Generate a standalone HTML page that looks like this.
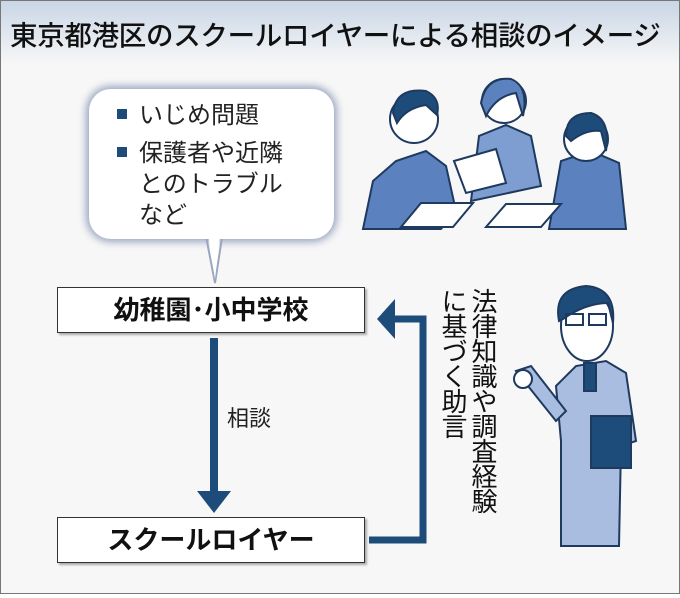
<!DOCTYPE html>
<html><head><meta charset="utf-8"><style>
body{margin:0;width:680px;height:594px;overflow:hidden;font-family:"Liberation Sans","Noto Sans CJK JP",sans-serif;}
#wrap{position:relative;width:678px;height:592px;border:1px solid #777;background:#f7f7f7;}
#title{position:absolute;left:0;top:0;width:678px;height:64px;background:linear-gradient(#c9d6e6,#f7f7f7);}
#title span{position:absolute;left:9px;top:12px;font-size:27.5px;font-weight:500;color:#111;letter-spacing:-0.3px;white-space:nowrap}
.box{position:absolute;left:56px;width:306px;height:44px;background:#fff;border:1px solid #333;box-shadow:2px 2px 2px #aaa;text-align:center;font-size:26px;font-weight:bold;line-height:44px;color:#111}
.bubble{position:absolute;left:88px;top:88px;width:245px;height:150px;background:#fff;border-radius:22px;box-shadow:0 0 8px 3px #9aa6c0;}
.bt{position:absolute;font-size:24px;color:#222;line-height:31px;white-space:nowrap}
.sq{display:inline-block;width:10px;height:10px;background:#1e4c7a;margin-right:12px;vertical-align:4px}
.vt{position:absolute;writing-mode:vertical-rl;font-size:26px;color:#111;line-height:30px;letter-spacing:-1px}
</style></head><body><div id="wrap">
<div id="title"><span>東京都港区のスクールロイヤーによる相談のイメージ</span></div>
<svg style="position:absolute;left:0;top:0" width="678" height="592">
<polygon points="204,230 222,230 214,282" fill="#fff" stroke="#9aa6c0" stroke-width="2"/>
</svg>
<div class="bubble"></div>
<svg style="position:absolute;left:0;top:0" width="678" height="592">
<polygon points="206,226 220,226 214,278" fill="#fff"/>
<rect x="209" y="337" width="8" height="158" fill="#1e4c7a"/>
<polygon points="196,490 230,490 213,512" fill="#1e4c7a"/>
<polyline points="368,539 422,539 422,318 392,318" fill="none" stroke="#1e4c7a" stroke-width="7"/>
<polygon points="394,298 394,338 376,318" fill="#1e4c7a"/>
<g stroke="#1e3a5f" stroke-width="2">
<path d="M362,228 L372,180 L395,160 L425,150 L445,165 L455,210 L440,228 Z" fill="#5b82bf"/>
<path d="M470,200 L478,135 L505,124 L530,135 L540,185 Z" fill="#7e9dd0"/>
<path d="M548,228 L560,160 L590,150 L618,162 L625,228 Z" fill="#5b82bf"/>
<circle cx="413" cy="118" r="24" fill="#fff"/>
<path d="M392,112 Q395,86 425,90 Q440,97 436,114 L425,104 Q405,107 396,122Z" fill="#1e4c7a"/>
<circle cx="503" cy="100" r="22" fill="#fff"/>
<path d="M480,102 Q485,75 510,78 Q528,85 522,115 L515,92 Q495,95 485,115Z" fill="#5b82bf"/>
<circle cx="585" cy="138" r="22" fill="#fff"/>
<path d="M565,135 Q565,112 590,112 Q610,118 605,150 L600,130 Q585,128 570,140Z" fill="#1e4c7a"/>
<polygon points="453,160 495,148 505,182 465,192" fill="#fff"/>
<polygon points="400,226 420,202 472,202 452,226" fill="#fff"/>
<polygon points="485,226 505,203 560,203 540,226" fill="#fff"/>
</g>
<g stroke="#1e3a5f" stroke-width="2">
<path d="M555,385 L575,365 L605,360 L625,372 L635,440 L620,445 L618,545 L560,545 L560,440 Z" fill="#a9bde0"/>
<path d="M515,370 L530,365 L565,410 L555,420 Z" fill="#a9bde0"/>
<circle cx="522" cy="378" r="9" fill="#fff"/>
<rect x="583" y="362" width="12" height="28" fill="#1e4c7a"/>
<ellipse cx="586" cy="325" rx="26" ry="35" fill="#fff"/>
<path d="M558,320 Q552,288 585,285 Q615,287 612,322 L607,302 Q585,302 562,318Z" fill="#1e4c7a"/>
<rect x="565" y="313" width="17" height="11" fill="none"/><rect x="588" y="313" width="17" height="11" fill="none"/>
<rect x="590" y="415" width="40" height="52" fill="#1e4c7a"/>
</g>
</svg>
<div class="bt" style="left:116px;top:99px"><span class="sq"></span>いじめ問題</div>
<div class="bt" style="left:116px;top:137px"><span class="sq"></span>保護者や近隣<br><span style="margin-left:22px">とのトラブル</span><br><span style="margin-left:22px">など</span></div>
<div class="box" style="top:286px">幼稚園･小中学校</div>
<div class="box" style="top:516px">スクールロイヤー</div>
<div style="position:absolute;left:226px;top:400px;font-size:22px;color:#222">相談</div>
<div class="vt" style="left:437px;top:287px;height:310px">法律知識や調査経験<br>に基づく助言</div>
</div></body></html>
